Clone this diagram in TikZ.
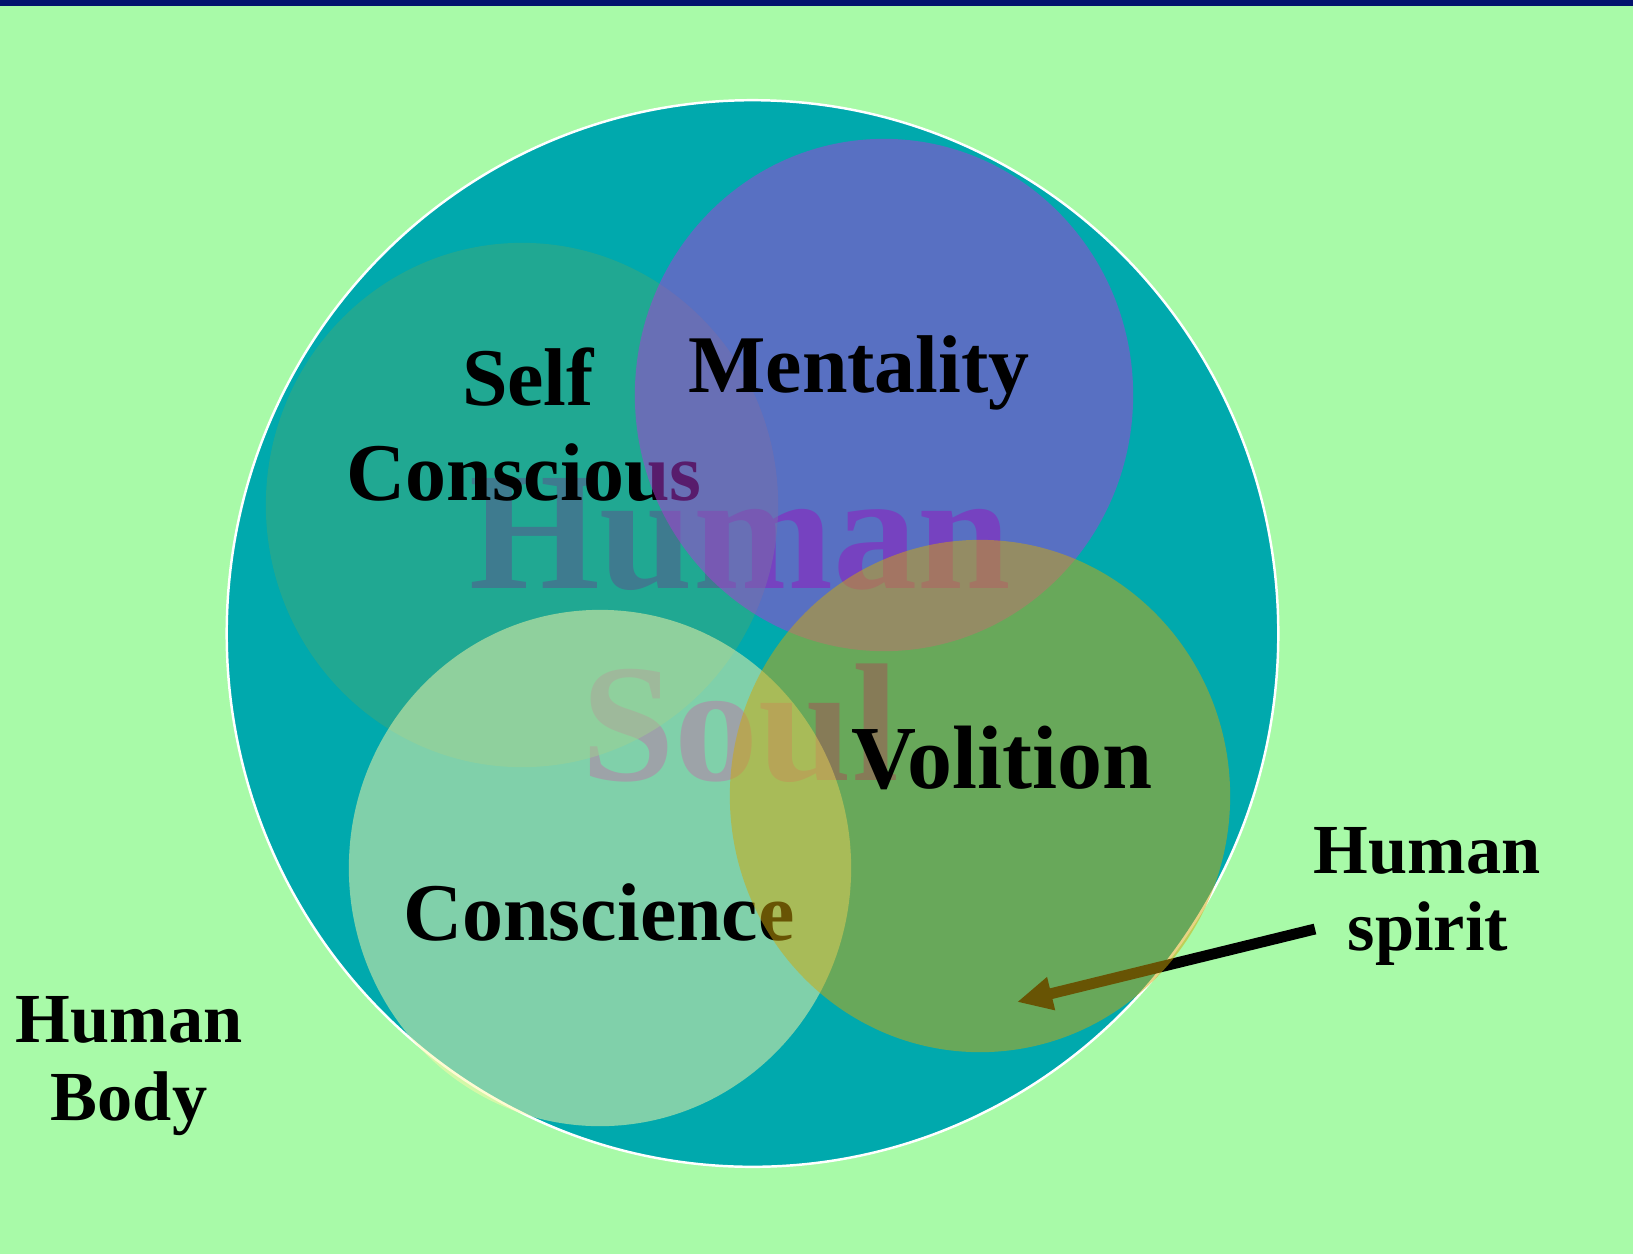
\documentclass[tikz,border=0pt]{standalone}
\usepackage{fontspec}
\setmainfont{Liberation Serif}
\usetikzlibrary{arrows.meta}
\definecolor{bgcol}{HTML}{A8FAA8}
\definecolor{barcol}{HTML}{03126E}
\definecolor{soulcol}{HTML}{00A9AD}
\definecolor{soultext}{HTML}{3C4EA8}
\definecolor{selfcol}{HTML}{40A878}
\definecolor{mentcol}{HTML}{B038D8}
\definecolor{conscol}{HTML}{FFF8A8}
\definecolor{volcol}{HTML}{D0A808}
\tikzset{
  lbl/.style={font=\bfseries\fontsize{23.3}{26}\selectfont, inner sep=0pt, anchor=base},
  vlbl/.style={font=\bfseries\fontsize{25.6}{28}\selectfont, inner sep=0pt, anchor=base},
  side/.style={font=\bfseries\fontsize{20}{22}\selectfont, inner sep=0pt, anchor=base},
  big/.style={font=\bfseries\fontsize{47.8}{50}\selectfont, inner sep=0pt, anchor=base, text=soultext},
  part/.style={fill opacity=0.5, draw=none},
  pointer/.style={line width=3.1pt, -{Triangle[length=10pt,width=9pt]}},
}
\begin{document}
\begin{tikzpicture}[x=0.01cm,y=-0.01cm]
\useasboundingbox (0,0) rectangle (1633,1254);
\fill[bgcol] (0,0) rectangle (1633,1254);
\fill[barcol] (0,0) rectangle (1633,6);
% human soul
\path[fill=soulcol, draw=white, line width=0.7pt] (752.5,633.5) ellipse [x radius=5.255cm, y radius=5.33cm];
\node[big] (hum) at (740,588) {Human};
\node[big] (soul) at (740,780) {Soul};
% self conscious
\path[part, fill=selfcol] (522,505) ellipse [x radius=2.56cm, y radius=2.62cm];
\node[lbl] (self) at (528,405) {Self};
\node[lbl] (consc) at (524,500) {Conscious};
% mentality
\path[part, fill=mentcol] (884,395) ellipse [x radius=2.49cm, y radius=2.56cm];
\node[lbl] (ment) at (859,392) {Mentality};
% conscience
\path[part, fill=conscol] (600,868) ellipse [x radius=2.51cm, y radius=2.58cm];
\node[lbl] (consci) at (599,940) {Conscience};
% human spirit label and pointer
\node[side] (hs1) at (1427,873) {Human};
\node[side] (hs2) at (1428,950) {spirit};
\coordinate (arrS) at (1315,929);
\coordinate (arrT) at (1017,1002);
\draw[pointer] (arrS) -- (arrT);
% volition
\path[part, fill=volcol] (980,796) ellipse [x radius=2.50cm, y radius=2.56cm];
\node[vlbl] (vol) at (1002,788) {Volition};
% human body
\node[side] (hb1) at (129,1042) {Human};
\node[side] (hb2) at (129,1120) {Body};
\end{tikzpicture}
\end{document}
